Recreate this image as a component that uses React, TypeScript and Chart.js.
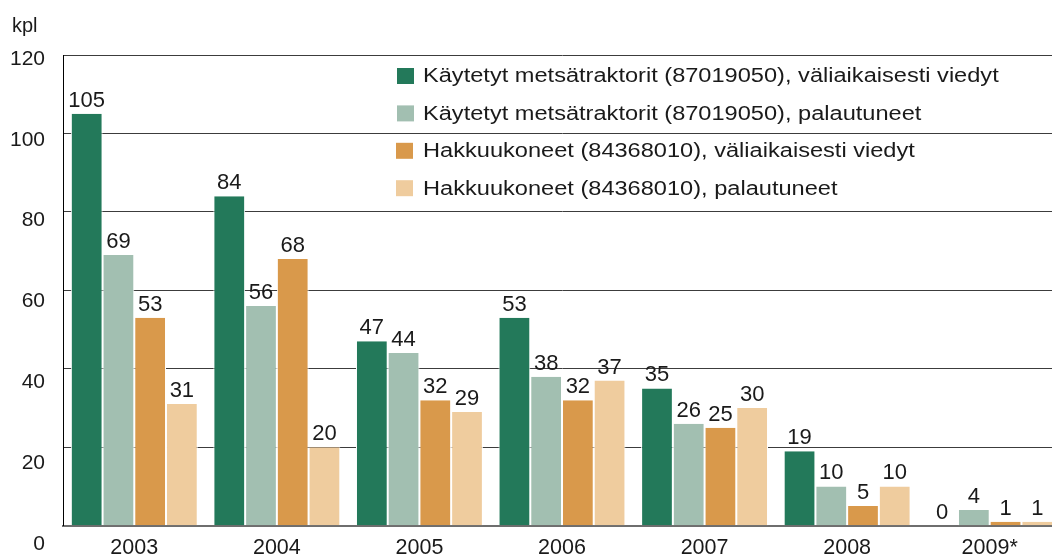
import React, { useEffect, useRef } from "react";
import { Chart, registerables } from "chart.js";

Chart.register(...registerables);

const categories = ["2003", "2004", "2005", "2006", "2007", "2008", "2009*"];
const seriesLabels = [
  "Käytetyt metsätraktorit (87019050), väliaikaisesti viedyt",
  "Käytetyt metsätraktorit (87019050), palautuneet",
  "Hakkuukoneet (84368010), väliaikaisesti viedyt",
  "Hakkuukoneet (84368010), palautuneet",
];
const tractorsExported = [105, 84, 47, 53, 35, 19, 0];
const tractorsReturned = [69, 56, 44, 38, 26, 10, 4];
const harvestersExported = [53, 68, 32, 32, 25, 5, 1];
const harvestersReturned = [31, 20, 29, 37, 30, 10, 1];
const yTicks = [0, 20, 40, 60, 80, 100, 120];
const unitLabel = "kpl";

const colors = ["#23795a", "#a2bfb1", "#d9994b", "#efcc9e"];
const FONT = '"Liberation Sans", Arial, sans-serif';

const overlay = {
  id: "overlay",
  afterDatasetsDraw(chart: any) {
    const ctx = chart.ctx;
    const y = chart.scales.y;
    ctx.save();
    ctx.fillStyle = "#1a1a1a";
    // y tick labels
    ctx.font = `21px ${FONT}`;
    ctx.textAlign = "right";
    ctx.textBaseline = "middle";
    yTicks.forEach((v) => {
      const py = y.getPixelForValue(v) + 4 + (120 - v) * 0.12;
      ctx.fillText(String(v), 45, py);
    });
    // unit
    ctx.font = `20px ${FONT}`;
    ctx.textAlign = "left";
    ctx.textBaseline = "alphabetic";
    ctx.fillText(unitLabel, 12, 32);
    // data labels
    ctx.font = `22px ${FONT}`;
    ctx.textAlign = "center";
    chart.data.datasets.forEach((ds: any, i: number) => {
      const meta = chart.getDatasetMeta(i);
      meta.data.forEach((bar: any, j: number) => {
        ctx.fillText(String(ds.data[j]), bar.x, bar.y - 7);
      });
    });
    // legend
    ctx.font = `19.5px ${FONT}`;
    ctx.textAlign = "left";
    ctx.textBaseline = "middle";
    chart.data.datasets.forEach((ds: any, i: number) => {
      const cy = 76 + i * 37.4;
      ctx.fillStyle = ds.backgroundColor;
      ctx.fillRect(i < 2 ? 397 : 396, cy - 8, 17, 16);
      ctx.fillStyle = "#1a1a1a";
      ctx.save();
      ctx.translate(423, cy + 1);
      ctx.scale(1.21, 1);
      ctx.fillText(ds.label, 0, 0);
      ctx.restore();
    });
    ctx.restore();
  },
};

export default function App() {
  const ref = useRef<HTMLCanvasElement>(null);
  useEffect(() => {
    const data = [tractorsExported, tractorsReturned, harvestersExported, harvestersReturned];
    const chart = new Chart(ref.current!, {
      type: "bar",
      data: {
        labels: categories,
        datasets: data.map((d, i) => ({
          label: seriesLabels[i],
          data: d,
          backgroundColor: colors[i],
          borderColor: "#ffffff",
          borderWidth: { left: 1, right: 1, top: 0, bottom: 0 },
          borderSkipped: false,
          barPercentage: 1,
          categoryPercentage: 0.89,
        })),
      },
      options: {
        animation: false,
        responsive: false,
        devicePixelRatio: 1,
        layout: { padding: { top: 55, left: 0, right: 0, bottom: 0 } },
        plugins: { legend: { display: false }, tooltip: { enabled: false } },
        scales: {
          x: {
            grid: { display: false, drawTicks: false },
            border: { display: true, color: "#6e6e6e", width: 2 },
            ticks: {
              color: "#1a1a1a",
              font: { family: FONT, size: 21.5 },
              padding: 9,
              maxRotation: 0,
              autoSkip: false,
            },
            afterFit: (s: any) => {
              s.height = 30.3;
            },
          },
          y: {
            min: 0,
            max: 120,
            ticks: { display: false, stepSize: 20 },
            grid: { color: "#3c3c3c", lineWidth: 1, drawTicks: false },
            border: { display: true, color: "#000000", width: 1 },
            afterFit: (s: any) => {
              s.width = 63;
            },
          },
        },
      },
      plugins: [overlay],
    });
    return () => chart.destroy();
  }, []);
  return (
    <div style={{ position: "fixed", left: 0, top: 0, width: 1061, height: 556, background: "#fff" }}>
      <canvas ref={ref} width={1061} height={556} />
    </div>
  );
}
